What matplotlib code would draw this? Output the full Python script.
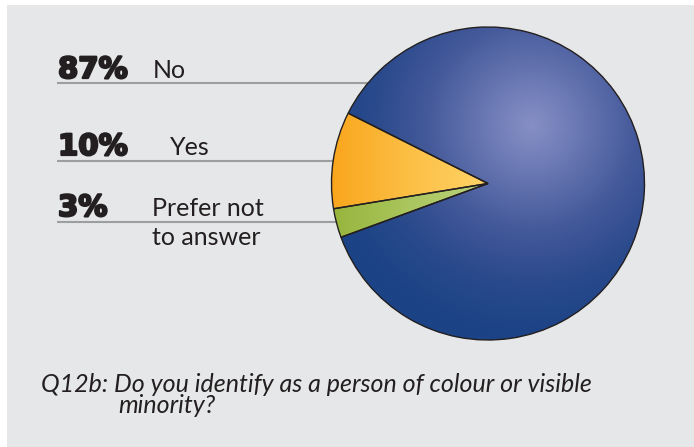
import matplotlib
matplotlib.use('Agg')

import matplotlib.pyplot as plt
import matplotlib.patheffects as pe
import numpy as np
from matplotlib.colors import LinearSegmentedColormap

# -----------------------------
# Data
# -----------------------------

labels = ['Yes', 'Prefer not to answer', 'No']
values = [10, 3, 87]

# label rows (top to bottom in the picture)
row_pct = ['87%', '10%', '3%']
row_label = [['No'], ['Yes'], ['Prefer not', 'to answer']]

caption = ['Q12b: Do you identify as a person of colour or visible',
           'minority?']

W, H = 694, 447

fig = plt.figure(figsize=(W / 100, H / 100), dpi=100)
fig.patch.set_facecolor('white')
ax = fig.add_axes([0, 0, 1, 1])

# grey panel
ax.add_patch(plt.Rectangle((7, 0), W - 7, H - 5, facecolor='#e6e7e8',
                           edgecolor='none', zorder=0))

cx, cy, r = 488, H - 183.5, 156.5

# -----------------------------
# Guide lines and labels
# -----------------------------

line_y = [83, 161, 222]
label_x = [153, 170, 152]
base_y = [78, 155, 216]
heavy = [pe.withStroke(linewidth=1.6, foreground='#231f20')]

for i in range(3):
    ax.plot([57, cx], [H - line_y[i], H - line_y[i]], color='#9d9ea0',
            lw=1.5, zorder=1, solid_capstyle='butt')
    ax.text(58, H - base_y[i], row_pct[i], fontsize=21, fontweight='bold',
            family='DejaVu Sans', color='#231f20', va='baseline', ha='left',
            path_effects=heavy)
    for j, part in enumerate(row_label[i]):
        ax.text(label_x[i], H - base_y[i] - 29 * j, part, fontsize=18,
                family='Lato', color='#231f20', va='baseline', ha='left')

# -----------------------------
# Pie
# -----------------------------

wedges, _ = ax.pie(values, startangle=153.3, counterclock=True,
                   center=(cx, cy), radius=r,
                   wedgeprops=dict(edgecolor='#231f20', linewidth=1.0),
                   frame=True)

for w in wedges:
    w.set_zorder(3)
    w.set_facecolor('none')

ext = [cx - r, cx + r, cy - r, cy + r]
gx, gy = np.meshgrid(np.linspace(ext[0], ext[1], 400),
                     np.linspace(ext[3], ext[2], 400))

# blue: radial highlight
hx, hy = 532, H - 125
d = np.hypot(gx - hx, gy - hy) / (r * 1.35)
blue_cmap = LinearSegmentedColormap.from_list(
    'b', ['#8790c5', '#6675b1', '#44599a', '#2a4a8c', '#1b4386'])
im = ax.imshow(np.clip(d, 0, 1), cmap=blue_cmap, extent=ext, zorder=2,
               vmin=0, vmax=1, interpolation='bilinear')
im.set_clip_path(wedges[2])

# yellow / green: linear along x
t = np.clip((gx - (cx - r)) / r, 0, 1)
yellow_cmap = LinearSegmentedColormap.from_list(
    'y', ['#f9a61c', '#fcbf45', '#fed367'])
im = ax.imshow(t, cmap=yellow_cmap, extent=ext, zorder=2, vmin=0, vmax=1)
im.set_clip_path(wedges[0])

green_cmap = LinearSegmentedColormap.from_list(
    'g', ['#97b53c', '#aac65e', '#bdd27e'])
im = ax.imshow(t, cmap=green_cmap, extent=ext, zorder=2, vmin=0, vmax=1)
im.set_clip_path(wedges[1])

# -----------------------------
# Caption
# -----------------------------

ax.text(41, H - 392, caption[0], fontsize=18, style='italic',
        family='Lato', color='#231f20', va='baseline', ha='left')
ax.text(118, H - 413, caption[1], fontsize=18, style='italic',
        family='Lato', color='#231f20', va='baseline', ha='left')

ax.set_xlim(0, W)
ax.set_ylim(0, H)
ax.set_aspect('auto')
ax.axis('off')

fig.savefig('out.png', dpi=100, facecolor='white')
